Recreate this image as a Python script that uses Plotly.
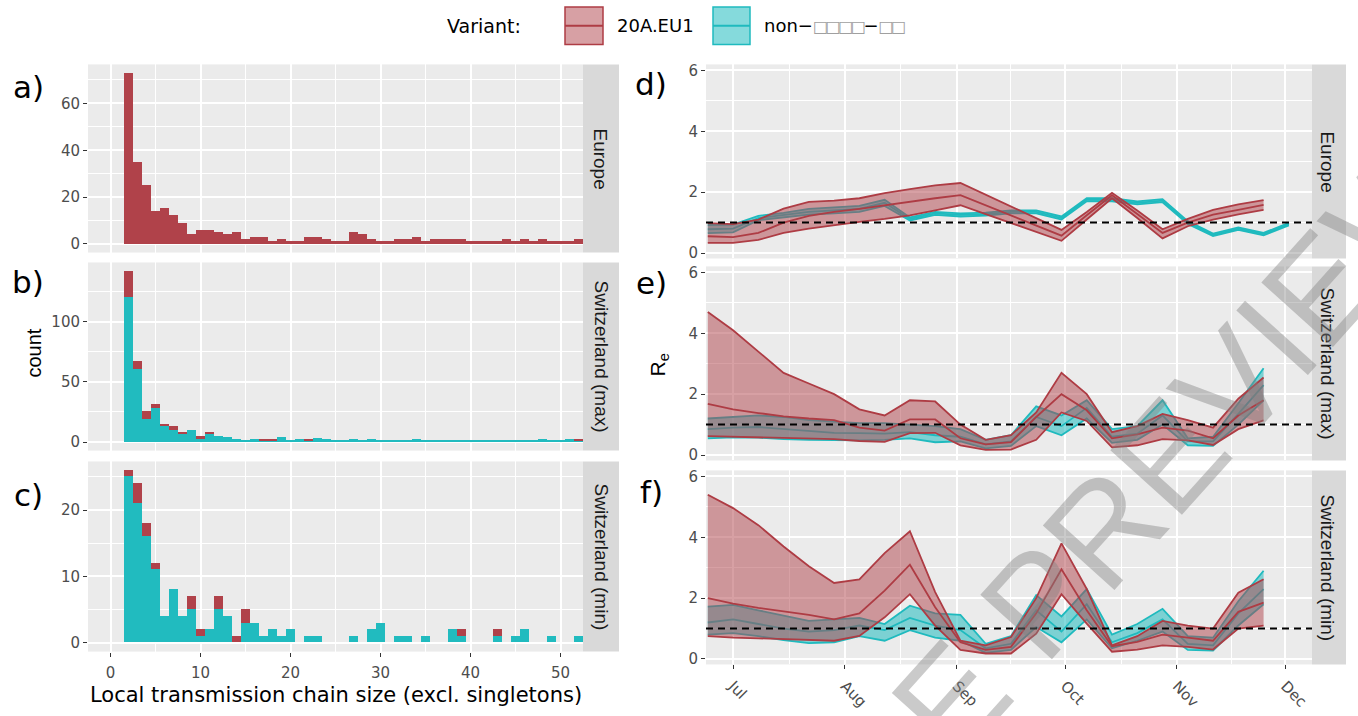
import plotly.graph_objects as go

W, H = 1358, 716
RED = '#B0424A'
CYAN = '#21BBBF'
RED_LINE = '#AE3C44'
CYAN_LINE = '#1FBABE'
RED_FILL = 'rgba(176,66,74,0.5)'
CYAN_FILL = 'rgba(33,187,191,0.55)'

# ---------------- histogram data (chain size 2..52) ----------------
sizes = list(range(2, 53))
europe_20a = [73, 35, 25, 14, 15, 12, 9, 4, 6, 6, 5, 4, 5, 2, 3, 3, 1, 2, 1, 1, 3, 3, 2, 1,
              1, 5, 4, 2, 1, 1, 2, 2, 3, 1, 2, 2, 2, 2, 1, 1, 1, 1, 2, 1, 2, 1, 2, 1, 1, 1, 2]
chmax_non = [120, 60, 19, 28, 13, 10, 7, 10, 2, 6, 5, 4, 2, 1, 2, 1, 1, 4, 1, 2, 1, 3, 2, 1,
             1, 2, 1, 2, 1, 1, 1, 1, 2, 1, 1, 1, 1, 1, 1, 1, 1, 1, 1, 1, 1, 1, 2, 1, 1, 2, 1]
chmax_20a = [22, 7, 6, 3, 2, 3, 1, 0, 3, 2, 0, 0, 0, 0, 0, 1, 1, 0, 0, 0, 1, 0, 0, 0,
             0, 0, 0, 0, 0, 0, 0, 0, 0, 0, 0, 0, 0, 0, 0, 0, 0, 0, 0, 0, 0, 0, 0, 0, 0, 0, 1]
chmin_non = [25, 21, 16, 11, 4, 8, 4, 5, 1, 2, 5, 4, 0, 3, 3, 1, 2, 1, 2, 0, 1, 1, 0, 0,
             0, 1, 0, 2, 3, 0, 1, 1, 0, 1, 0, 0, 2, 1, 0, 0, 0, 1, 0, 1, 2, 0, 0, 1, 0, 0, 1]
chmin_20a = [1, 3, 2, 1, 0, 0, 0, 2, 1, 0, 2, 0, 1, 2, 0, 0, 0, 0, 0, 0, 0, 0, 0, 0,
             0, 0, 0, 0, 0, 0, 0, 0, 0, 0, 0, 0, 0, 1, 0, 0, 0, 1, 0, 0, 0, 0, 0, 0, 0, 0, 0]

# ---------------- Re data (weekly) ----------------
dates = ['2020-06-24', '2020-07-01', '2020-07-08', '2020-07-15', '2020-07-22', '2020-07-29',
         '2020-08-05', '2020-08-12', '2020-08-19', '2020-08-26', '2020-09-02', '2020-09-09',
         '2020-09-16', '2020-09-23', '2020-09-30', '2020-10-07', '2020-10-14', '2020-10-21',
         '2020-10-28', '2020-11-04', '2020-11-11', '2020-11-18', '2020-11-25', '2020-12-02']

eu_20a_lo = [0.33, 0.33, 0.43, 0.66, 0.80, 0.92, 1.02, 1.12, 1.24, 1.40, 1.57, 1.28, 0.99, 0.70,
             0.40, 1.10, 1.80, 1.15, 0.48, 0.88, 1.10, 1.27, 1.42]
eu_20a_med = [0.55, 0.52, 0.66, 1.00, 1.22, 1.35, 1.45, 1.57, 1.67, 1.80, 1.90, 1.57, 1.24, 0.90,
              0.57, 1.24, 1.90, 1.28, 0.66, 1.00, 1.26, 1.42, 1.58]
eu_20a_hi = [0.98, 0.95, 1.10, 1.46, 1.68, 1.72, 1.80, 1.97, 2.10, 2.22, 2.30, 1.92, 1.54, 1.15,
             0.76, 1.35, 1.98, 1.40, 0.78, 1.12, 1.42, 1.60, 1.74]
eu_non_lo = [0.65, 0.68, 1.08, 1.18, 1.26, 1.30, 1.35, 1.55, 1.07, 1.25, 1.20, 1.23, 1.30, 1.30,
             1.10, 1.70, 1.70, 1.60, 1.67, 0.95, 0.56, 0.76, 0.58, 0.91]
eu_non_med = [0.78, 0.80, 1.15, 1.25, 1.35, 1.40, 1.45, 1.65, 1.12, 1.30, 1.25, 1.28, 1.35, 1.35,
              1.15, 1.75, 1.75, 1.65, 1.72, 1.00, 0.60, 0.80, 0.62, 0.95]
eu_non_hi = [0.92, 0.93, 1.22, 1.32, 1.45, 1.50, 1.55, 1.75, 1.17, 1.35, 1.30, 1.33, 1.40, 1.40,
             1.20, 1.80, 1.80, 1.70, 1.77, 1.05, 0.64, 0.84, 0.66, 0.99]

chmax_20a_lo = [0.62, 0.60, 0.57, 0.55, 0.54, 0.52, 0.46, 0.43, 0.72, 0.73, 0.32, 0.17, 0.18, 0.50,
                1.40, 1.12, 0.25, 0.32, 0.52, 0.48, 0.33, 0.85, 1.14]
chmax_20a_med = [1.68, 1.50, 1.38, 1.27, 1.20, 1.15, 0.90, 0.80, 1.17, 1.17, 0.55, 0.35, 0.42, 1.25,
                 2.00, 1.47, 0.55, 0.68, 0.90, 0.80, 0.55, 1.30, 1.80]
chmax_20a_hi = [4.70, 4.10, 3.40, 2.70, 2.35, 2.00, 1.50, 1.30, 1.80, 1.76, 1.00, 0.50, 0.65, 1.40,
                2.70, 2.00, 0.75, 0.95, 1.35, 1.15, 0.90, 1.85, 2.55]
chmax_non_lo = [0.55, 0.58, 0.57, 0.52, 0.50, 0.48, 0.48, 0.50, 0.55, 0.42, 0.45, 0.22, 0.30, 0.95,
                0.65, 1.20, 0.40, 0.50, 1.00, 0.32, 0.30, 1.00, 1.80]
chmax_non_med = [0.85, 0.90, 0.92, 0.85, 0.78, 0.73, 0.72, 0.70, 0.75, 0.65, 0.60, 0.35, 0.45, 1.25,
                 0.95, 1.55, 0.60, 0.70, 1.30, 0.45, 0.45, 1.35, 2.30]
chmax_non_hi = [1.20, 1.25, 1.30, 1.25, 1.15, 1.10, 1.05, 1.05, 1.00, 0.95, 0.85, 0.50, 0.65, 1.60,
                1.30, 1.80, 0.85, 0.95, 1.80, 0.55, 0.60, 1.70, 2.85]

chmin_20a_lo = [0.75, 0.70, 0.68, 0.66, 0.64, 0.60, 0.76, 1.37, 2.13, 1.10, 0.30, 0.18, 0.18, 0.83,
                2.13, 1.16, 0.24, 0.31, 0.45, 0.40, 0.31, 1.00, 1.10]
chmin_20a_med = [2.00, 1.82, 1.68, 1.57, 1.45, 1.30, 1.50, 2.25, 3.10, 1.70, 0.55, 0.30, 0.40, 1.50,
                 2.95, 1.60, 0.42, 0.56, 0.80, 0.70, 0.60, 1.55, 1.85]
chmin_20a_hi = [5.40, 4.96, 4.40, 3.70, 3.05, 2.50, 2.62, 3.48, 4.20, 2.20, 0.60, 0.45, 0.72, 2.00,
                3.80, 2.30, 0.45, 0.75, 1.25, 1.10, 1.00, 2.18, 2.62]
chmin_non_lo = [0.80, 0.85, 0.75, 0.62, 0.52, 0.55, 0.75, 0.60, 0.95, 0.70, 0.60, 0.20, 0.30, 1.05,
                0.55, 1.30, 0.35, 0.60, 0.90, 0.30, 0.28, 1.10, 1.80]
chmin_non_med = [1.20, 1.30, 1.15, 1.00, 0.90, 0.95, 1.10, 0.95, 1.35, 1.10, 0.95, 0.35, 0.50, 1.60,
                 0.90, 1.80, 0.55, 0.85, 1.30, 0.50, 0.45, 1.50, 2.30]
chmin_non_hi = [1.72, 1.78, 1.60, 1.42, 1.25, 1.30, 1.35, 1.15, 1.75, 1.50, 1.45, 0.50, 0.75, 2.10,
                1.40, 2.30, 0.80, 1.15, 1.65, 0.75, 0.70, 1.90, 2.90]

month_ticks = ['2020-07-01', '2020-08-01', '2020-09-01', '2020-10-01', '2020-11-01', '2020-12-01']
month_labels = ['Jul', 'Aug', 'Sep', 'Oct', 'Nov', 'Dec']
month_minor = ['2020-07-16 12:00', '2020-08-16 12:00', '2020-09-16', '2020-10-16 12:00', '2020-11-16']
strip_labels = ['Europe', 'Switzerland (max)', 'Switzerland (min)']


def X(px):
    return px / W


def Y(py):
    return 1 - py / H


fig = go.Figure()

# ---------------- histograms ----------------
hist = [('x', 'y', None, europe_20a), ('x2', 'y2', chmax_non, chmax_20a), ('x3', 'y3', chmin_non, chmin_20a)]
for xa, ya, non, eu in hist:
    if non is not None:
        fig.add_trace(go.Bar(x=sizes, y=non, width=1, marker=dict(color=CYAN, line=dict(width=0)),
                             xaxis=xa, yaxis=ya, showlegend=False, hoverinfo='skip'))
    fig.add_trace(go.Bar(x=sizes, y=eu, width=1, marker=dict(color=RED, line=dict(width=0)),
                         xaxis=xa, yaxis=ya, showlegend=False, hoverinfo='skip'))


def ribbon(xa, ya, lo, med, hi, lc, fc):
    d = dates[:len(lo)]
    fig.add_trace(go.Scatter(x=d, y=lo, mode='lines', line=dict(color=lc, width=1.8),
                             xaxis=xa, yaxis=ya, showlegend=False, hoverinfo='skip'))
    fig.add_trace(go.Scatter(x=d, y=hi, mode='lines', fill='tonexty', fillcolor=fc,
                             line=dict(color=lc, width=1.8), xaxis=xa, yaxis=ya,
                             showlegend=False, hoverinfo='skip'))
    fig.add_trace(go.Scatter(x=d, y=med, mode='lines', line=dict(color=lc, width=1.8),
                             xaxis=xa, yaxis=ya, showlegend=False, hoverinfo='skip'))


re_panels = [
    ('x4', 'y4', (eu_non_lo, eu_non_med, eu_non_hi), (eu_20a_lo, eu_20a_med, eu_20a_hi)),
    ('x5', 'y5', (chmax_non_lo, chmax_non_med, chmax_non_hi), (chmax_20a_lo, chmax_20a_med, chmax_20a_hi)),
    ('x6', 'y6', (chmin_non_lo, chmin_non_med, chmin_non_hi), (chmin_20a_lo, chmin_20a_med, chmin_20a_hi)),
]
for xa, ya, non, eu in re_panels:
    ribbon(xa, ya, *non, CYAN_LINE, CYAN_FILL)
    ribbon(xa, ya, *eu, RED_LINE, RED_FILL)

# ---------------- axes ----------------
tickfont = dict(family='DejaVu Sans', size=15, color='#4D4D4D')


def ax(**kw):
    base = dict(showgrid=True, gridcolor='white', gridwidth=2, zeroline=False, showline=False,
                ticks='outside', ticklen=4, tickwidth=1.3, tickcolor='#333333', tickfont=tickfont,
                fixedrange=True)
    base.update(kw)
    return base


left_dom = [X(88), X(583)]
right_dom = [X(706), X(1312)]
left_rows = [(62, 252), (262, 452), (463, 655)]
right_rows = [(62, 258), (266, 462), (472, 668)]
y_left = [
    dict(range=[-3.65, 76.65], tickvals=[0, 20, 40, 60], minor=[10, 30, 50, 70]),
    dict(range=[-7.1, 149.1], tickvals=[0, 50, 100], minor=[25, 75, 125]),
    dict(range=[-1.3, 27.3], tickvals=[0, 10, 20], minor=[5, 15, 25]),
]
layout = {}
for i in range(3):
    n = '' if i == 0 else str(i + 1)
    last = i == 2
    layout['xaxis' + n] = ax(domain=left_dom, anchor='y' + n, range=[-2.5, 52.5],
                             tickvals=[0, 10, 20, 30, 40, 50], showticklabels=last,
                             ticks='outside' if last else '', ticklabelstandoff=3,
                             minor=dict(tickmode='array', tickvals=[5, 15, 25, 35, 45], showgrid=True,
                                        gridcolor='white', gridwidth=1, ticks=''))
    t, b = left_rows[i]
    yl = y_left[i]
    layout['yaxis' + n] = ax(domain=[Y(b), Y(t)], anchor='x' + n, range=yl['range'],
                             tickvals=yl['tickvals'],
                             minor=dict(tickmode='array', tickvals=yl['minor'], showgrid=True,
                                        gridcolor='white', gridwidth=1, ticks=''))
for i in range(3):
    n = str(i + 4)
    last = i == 2
    layout['xaxis' + n] = ax(domain=right_dom, anchor='y' + n, type='date',
                             range=['2020-06-23 12:00', '2020-12-08 10:00'],
                             tickvals=month_ticks, ticktext=month_labels, showticklabels=last,
                             ticks='outside' if last else '', tickangle=45, ticklabelstandoff=2,
                             minor=dict(tickmode='array', tickvals=month_minor, showgrid=True,
                                        gridcolor='white', gridwidth=1, ticks=''))
    t, b = right_rows[i]
    layout['yaxis' + n] = ax(domain=[Y(b), Y(t)], anchor='x' + n, range=[-0.18, 6.2],
                             tickvals=[0, 2, 4, 6],
                             minor=dict(tickmode='array', tickvals=[1, 3, 5], showgrid=True,
                                        gridcolor='white', gridwidth=1, ticks=''))

shapes = []
annotations = []


def note(px, py, text, font, angle=0, xanchor='center'):
    annotations.append(dict(xref='paper', yref='paper', x=X(px), y=Y(py), text=text, textangle=angle,
                            xanchor=xanchor, yanchor='middle', showarrow=False, font=font))


strip_font = dict(family='Liberation Sans', size=19, color='#1A1A1A')
for i in range(3):
    t, b = left_rows[i]
    shapes.append(dict(type='rect', xref='paper', yref='paper', x0=X(583), x1=X(619), y0=Y(b), y1=Y(t),
                       fillcolor='#D9D9D9', line=dict(width=0), layer='below'))
    note(601, (t + b) / 2, strip_labels[i], strip_font, angle=90)
    t, b = right_rows[i]
    shapes.append(dict(type='rect', xref='paper', yref='paper', x0=X(1312), x1=X(1346), y0=Y(b), y1=Y(t),
                       fillcolor='#D9D9D9', line=dict(width=0), layer='below'))
    note(1328, (t + b) / 2, strip_labels[i], strip_font, angle=90)
    # dashed Re = 1 line
    shapes.append(dict(type='line', xref='x%d domain' % (i + 4), yref='y%d' % (i + 4), x0=0, x1=1, y0=1, y1=1,
                       line=dict(color='black', width=2, dash='7px,5px'), layer='above'))

# panel labels
label_font = dict(family='DejaVu Sans', size=31, color='black')
for lab, px, py in [('a)', 28, 85), ('b)', 28, 282), ('c)', 28, 497),
                    ('d)', 651, 82), ('e)', 651, 283), ('f)', 651, 494)]:
    note(px, py, lab, label_font)

# axis titles
note(335.5, 699, 'Local transmission chain size (excl. singletons)',
     dict(family='DejaVu Sans', size=21, color='black'))
note(34, 354, 'count', dict(family='Liberation Sans', size=20, color='black'), angle=-90)
note(659, 366, 'R<sub>e</sub>', dict(family='Liberation Sans', size=21, color='black'), angle=-90)

# legend
legend_font = dict(family='DejaVu Sans', size=18, color='black')
note(445, 23, 'Variant:', dict(family='DejaVu Sans', size=19, color='black'), xanchor='left')
box = '<span style="font-size:16px;letter-spacing:-2.5px;color:#A0A0A0">%s</span>'
for x0, x1, lc, fc, label, tx in [(565, 603, RED_LINE, RED_FILL, '20A.EU1', 615),
                                  (713, 750, CYAN_LINE, CYAN_FILL,
                                   'non\u2212' + box % ('\u25a1' * 4) + '\u2212' + box % ('\u25a1' * 2), 762)]:
    shapes.append(dict(type='rect', xref='paper', yref='paper', x0=X(x0), x1=X(x1), y0=Y(42), y1=Y(4),
                       fillcolor=fc, line=dict(color=lc, width=1.5)))
    shapes.append(dict(type='line', xref='paper', yref='paper', x0=X(x0), x1=X(x1), y0=Y(23), y1=Y(23),
                       line=dict(color=lc, width=2)))
    note(tx, 23, label, legend_font, xanchor='left')

# watermark
note(1180, 446, 'E PREVIEW', dict(family='Liberation Sans', size=140, color='rgba(128,128,128,0.42)'),
     angle=-48)

fig.update_layout(width=W, height=H, margin=dict(l=0, r=0, t=0, b=0), paper_bgcolor='white',
                  plot_bgcolor='#EBEBEB', barmode='stack', bargap=0, showlegend=False,
                  shapes=shapes, annotations=annotations, **layout)

fig.write_html('out.html')
